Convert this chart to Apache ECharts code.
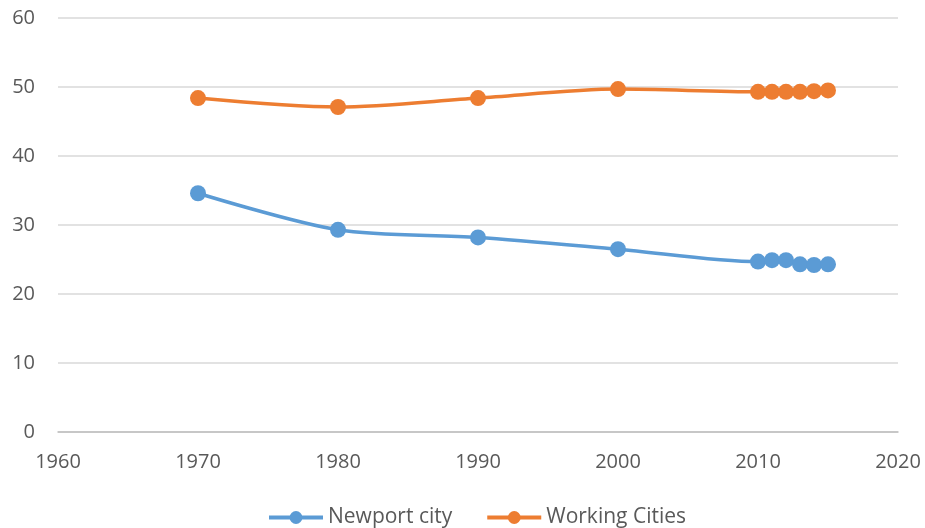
<!DOCTYPE html>
<html><head><meta charset="utf-8">
<script src="https://cdn.jsdelivr.net/npm/echarts@6/dist/echarts.min.js"></script>
<style>html,body{margin:0;padding:0;background:#fff}#c{width:925px;height:528px}</style>
</head><body><div id="c"></div>
<script>
const years = [1970, 1980, 1990, 2000, 2010, 2011, 2012, 2013, 2014, 2015];
const newport = [34.6, 29.3, 28.2, 26.5, 24.7, 24.9, 24.9, 24.3, 24.2, 24.3];
const working = [48.4, 47.1, 48.4, 49.7, 49.3, 49.3, 49.3, 49.3, 49.4, 49.5];
const xTicks = [1960, 1970, 1980, 1990, 2000, 2010, 2020];
const yTicks = [0, 10, 20, 30, 40, 50, 60];

const font = "'Open Sans', 'DejaVu Sans', sans-serif";
const fs = 20;
const chart = echarts.init(document.getElementById('c'));
chart.setOption({
  animation: false,
  textStyle: { fontFamily: font },
  grid: { left: 58, right: 27, top: 18, bottom: 96, containLabel: false },
  legend: {
    top: 502, left: 262, itemWidth: 54, itemHeight: 16, itemGap: 33,
    lineStyle: { width: 4 },
    textStyle: { color: '#595959', fontSize: 21, fontFamily: font, padding: [0, 0, 0, 0] },
    data: ['Newport city', 'Working Cities']
  },
  xAxis: {
    type: 'value', min: xTicks[0], max: xTicks[xTicks.length - 1], interval: 10,
    axisLine: { show: true, lineStyle: { color: '#bfbfbf', width: 1.5 } },
    axisTick: { show: false },
    splitLine: { show: false },
    axisLabel: { color: '#595959', fontSize: fs, margin: 20, formatter: v => String(v) }
  },
  yAxis: {
    type: 'value', min: yTicks[0], max: yTicks[yTicks.length - 1], interval: 10,
    axisLine: { show: false }, axisTick: { show: false },
    splitLine: { lineStyle: { color: '#d9d9d9', width: 1.5 } },
    axisLabel: { color: '#595959', fontSize: fs, margin: 23 }
  },
  series: [
    { name: 'Newport city', type: 'line', smooth: 0.3,
      data: years.map((y, i) => [y, newport[i]]),
      symbol: 'circle', symbolSize: 16,
      itemStyle: { color: '#5b9bd5' }, lineStyle: { color: '#5b9bd5', width: 3.5 } },
    { name: 'Working Cities', type: 'line', smooth: 0.3,
      data: years.map((y, i) => [y, working[i]]),
      symbol: 'circle', symbolSize: 16,
      itemStyle: { color: '#ed7d31' }, lineStyle: { color: '#ed7d31', width: 3.5 } }
  ]
});
</script></body></html>
